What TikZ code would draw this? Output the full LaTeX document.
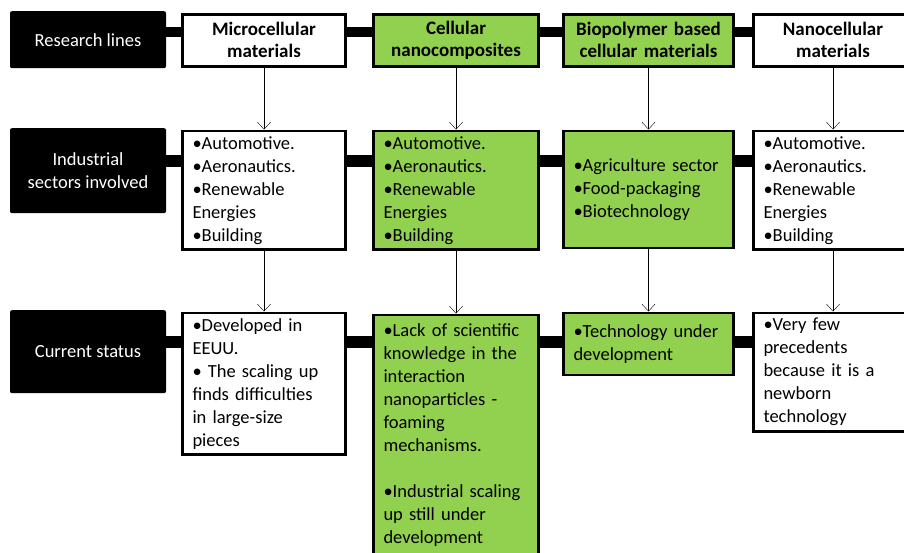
\documentclass[tikz,border=0pt]{standalone}
\usepackage{fontspec}
\setmainfont{Carlito}
\usetikzlibrary{positioning}
\usetikzlibrary{arrows.meta}
\definecolor{box green}{HTML}{92D050}
\newcommand{\bodyfont}{\fontsize{18.5}{23}\selectfont}
\newcommand{\headfont}{\fontsize{19}{22}\selectfont\bfseries}
\tikzset{
    % Open V heads, as in the slide
    >={Straight Barb[length=7pt,width=13pt]},
%
    % Text size used everywhere
    every node/.style={font=\bodyfont},
}
\pgfdeclarelayer{background}
\pgfsetlayers{background,main}

\begin{document}
\begin{tikzpicture}[
    x=1pt, y=-1pt,
    row label/.style={fill=black, text=white, rounded corners=2pt,
        minimum width=156pt, anchor=north, align=center, inner sep=0},
    box/.style={draw, line width=2.5pt, anchor=north, align=left,
        inner xsep=10pt, inner ysep=5.5pt, text width=#1},
    white box/.style={box=#1, fill=white},
    green box/.style={box=#1, fill=box green},
    header/.style={font=\headfont, align=center, minimum height=52pt},
    bar/.style={line width=#1},
    link/.style={->, thin},
]

\useasboundingbox (0,0) rectangle (904,552);

% Labels of the three rows
\node [row label, minimum height=57pt] (lines-lab) at (88,11) {Research lines};
\node [row label, minimum height=85pt] (sectors-lab) at (88,128)
    {Industrial\\sectors involved};
\node [row label, minimum height=83pt] (status-lab) at (88,310) {Current status};

% Research lines
\node [white box=143pt, header] (micro) at (264,13) {Microcellular\\materials};
\node [green box=145pt, header] (nanocomp) at (456,13) {Cellular\\nanocomposites};
\node [green box=150pt, header] (biopoly) at (648.5,13)
    {Biopolymer based\\cellular materials};
\node [white box=139pt, header] (nanocell) at (833,13) {Nanocellular\\materials};

% Industrial sectors
\node [white box=143pt, minimum height=117pt] (micro-sec) at (264,129.5)
    {•Automotive.\\•Aeronautics.\\•Renewable\\Energies\\•Building};
\node [green box=145pt, minimum height=117pt] (nanocomp-sec) at (456,129.5)
    {•Automotive.\\•Aeronautics.\\•Renewable\\Energies\\•Building};
\node [green box=150pt, minimum height=117pt] (biopoly-sec) at (648.5,129.5)
    {•Agriculture sector\\•Food-packaging\\•Biotechnology};
\node [white box=139pt, minimum height=117pt] (nanocell-sec) at (833,129.5)
    {•Automotive.\\•Aeronautics.\\•Renewable\\Energies\\•Building};

% Current status
\node [white box=143pt] (micro-stat) at (264,311.5)
    {•Developed in\\EEUU.\\• The scaling up\\finds difficulties\\in large-size\\pieces};
\node [green box=145pt, minimum height=240pt] (nanocomp-stat) at (456,313.5)
    {•Lack of scientific\\knowledge in the\\interaction\\nanoparticles -\\foaming\\mechanisms.\\[23pt]
     •Industrial scaling\\up still under\\development};
\node [green box=150pt, minimum height=62pt] (biopoly-stat) at (648.5,311.5)
    {•Technology under\\development};
\node [white box=139pt] (nanocell-stat) at (833,311.5)
    {•Very few\\precedents\\because it is a\\newborn\\technology};

% Arrows down each column
\foreach \col in {micro, nanocomp, biopoly, nanocell}
{
    \draw [link] (\col.south) -- (\col-sec.north);
    \draw [link] (\col-sec.south) -- (\col-stat.north);
}

% Thick bars joining each row
\begin{pgfonlayer}{background}
    \foreach \lab/\last/\shift/\thick in {
        lines-lab/nanocell/7.5pt/10pt,
        sectors-lab/nanocell-sec/9.5pt/12.5pt,
        status-lab/nanocell-stat/9.5pt/12.5pt}
    {
        \path ([yshift=\shift]\lab.east) coordinate (b);
        \draw [bar=\thick] (b) -- (b -| \last.center);
    }
\end{pgfonlayer}

\end{tikzpicture}
\end{document}
